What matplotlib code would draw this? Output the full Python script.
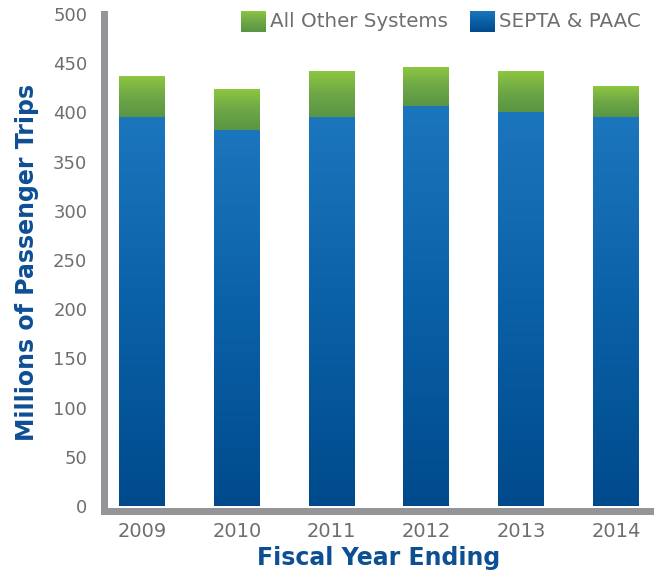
import numpy as np
import matplotlib
matplotlib.use("Agg")
import matplotlib.pyplot as plt
from matplotlib.colors import LinearSegmentedColormap

years = ["2009", "2010", "2011", "2012", "2013", "2014"]
septa_paac = [395, 382, 395, 407, 400, 395]
other_systems = [41, 41, 46, 39, 41, 31]
yticks = [0, 50, 100, 150, 200, 250, 300, 350, 400, 450, 500]

BLUE = LinearSegmentedColormap.from_list("blue", ["#004a8c", "#0a60a6", "#1c76bd"])
GREEN = LinearSegmentedColormap.from_list("green", ["#599544", "#6ea746", "#8dc63f"])
TEXT = "#6d6e71"
LABEL = "#0d4f93"
SPINE = "#939598"

grad = np.linspace(0, 1, 256).reshape(-1, 1)


def gradient_fill(ax, patch, cmap):
    # paint a vertical gradient over the bar's own rectangle
    x0, y0 = patch.get_x(), patch.get_y()
    w, h = patch.get_width(), patch.get_height()
    ax.imshow(grad, cmap=cmap, aspect="auto", origin="lower",
              extent=(x0, x0 + w, y0, y0 + h), zorder=patch.get_zorder())
    patch.set_facecolor("none")


fig = plt.figure(figsize=(6.54, 5.72), dpi=100)
W, H = 654, 572
ax = fig.add_axes([104 / W, 61.5 / H, 550 / W, 496.5 / H])

x = np.arange(len(years))
bw = 0.485
blue_bars = ax.bar(x, septa_paac, width=bw, linewidth=0, zorder=2)
green_bars = ax.bar(x, other_systems, bottom=septa_paac, width=bw, linewidth=0, zorder=2)
for b in blue_bars:
    gradient_fill(ax, b, BLUE)
for b in green_bars:
    gradient_fill(ax, b, GREEN)

ax.set_xlim(-0.40, 5.40)
ax.set_ylim(-4.6, 500)
ax.set_xticks(x)
ax.set_xticklabels(years)
ax.set_yticks(yticks)
ax.tick_params(length=0, colors=TEXT)
ax.tick_params(axis="y", labelsize=13, pad=12)
ax.tick_params(axis="x", labelsize=14, pad=8)

for side in ("top", "right"):
    ax.spines[side].set_visible(False)
for side in ("left", "bottom"):
    ax.spines[side].set_color(SPINE)
    ax.spines[side].set_linewidth(5.04)
    ax.spines[side].set_capstyle("projecting")

ax.set_ylabel("Millions of Passenger Trips", fontsize=17, fontweight="bold",
              color=LABEL, labelpad=10)
ax.set_xlabel("Fiscal Year Ending", fontsize=17, fontweight="bold",
              color=LABEL, labelpad=4)

# legend drawn by hand so the swatches carry the gradient
leg_items = [("All Other Systems", GREEN, 241), ("SEPTA & PAAC", BLUE, 470)]
for text, cmap, px in leg_items:
    sw = fig.add_axes([px / W, 1 - 32 / H, 25 / W, 21 / H])
    sw.imshow(grad, cmap=cmap, aspect="auto", origin="lower")
    sw.set_axis_off()
    fig.text((px + 29) / W, 1 - 21.5 / H, text, fontsize=14.3, color=TEXT,
             va="center", ha="left")

fig.savefig("out.png", dpi=100)
